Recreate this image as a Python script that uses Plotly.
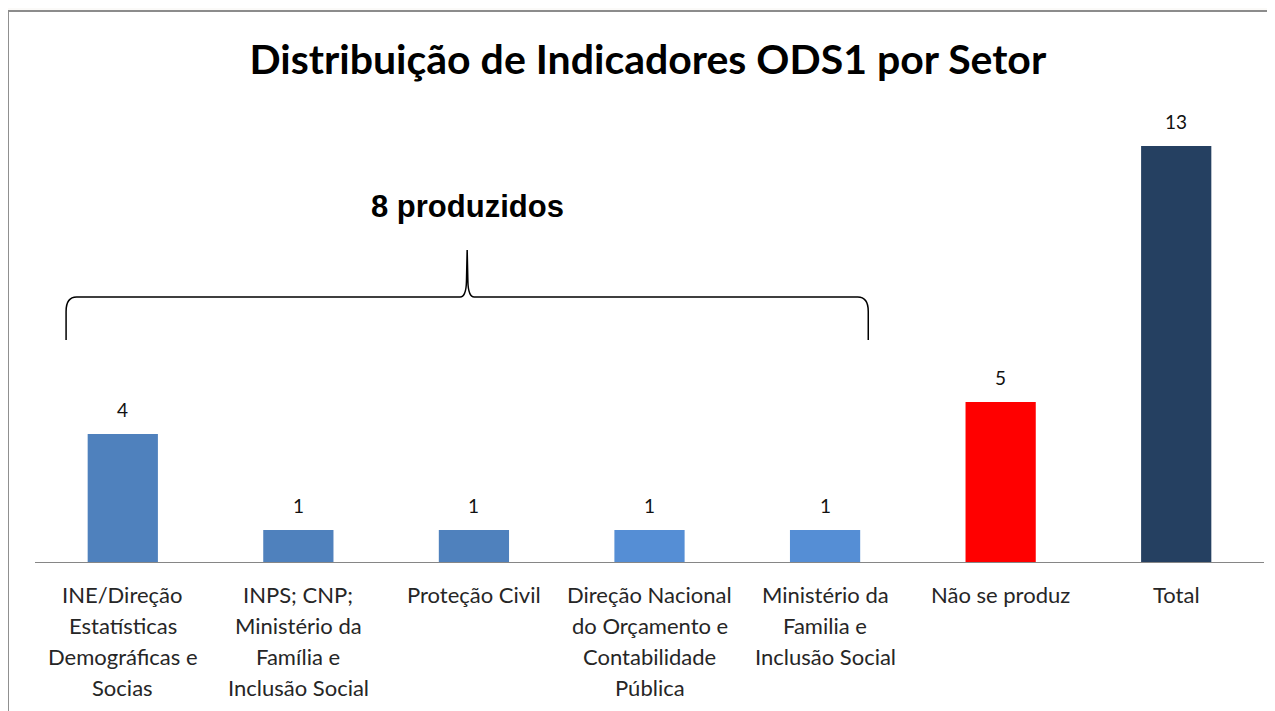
import plotly.graph_objects as go

# data
setores = [
    "INE/Direção<br>Estatísticas<br>Demográficas e<br>Socias",
    "INPS; CNP;<br>Ministério da<br>Família e<br>Inclusão Social",
    "Proteção Civil",
    "Direção Nacional<br>do Orçamento e<br>Contabilidade<br>Pública",
    "Ministério da<br>Familia e<br>Inclusão Social",
    "Não se produz",
    "Total",
]
indicadores = [4, 1, 1, 1, 1, 5, 13]
cores = ["#4F81BD", "#4F81BD", "#4F81BD", "#558ED5", "#558ED5", "#FF0000", "#254061"]

brace_text = "8 produzidos"
title_text = "Distribuição de Indicadores ODS1 por Setor"

FONT = "Lato, Calibri, 'Open Sans', sans-serif"

xs = list(range(len(setores)))

fig = go.Figure()
fig.add_trace(go.Bar(
    x=xs,
    y=indicadores,
    width=0.4,
    marker=dict(color=cores, line=dict(width=0)),
    hoverinfo="skip",
))

# value labels above each bar
for i, v in zip(xs, indicadores):
    fig.add_annotation(x=i, y=v, text=str(v), showarrow=False,
                       yanchor="bottom", yshift=11,
                       font=dict(family=FONT, size=19, color="#111111"))

# category labels, one annotation per line so spacing matches the original
for i, lab in zip(xs, setores):
    for k, line in enumerate(lab.split("<br>")):
        fig.add_annotation(x=i, y=0, text=line, showarrow=False,
                           yanchor="middle", yshift=-32 - 31 * k,
                           font=dict(family=FONT, size=22, color="#262626"))

# curly brace over the produced indicators
x0, x1 = -0.323, 4.246
xm = (x0 + x1) / 2
y_end, y_h, y_tip = 6.94, 8.28, 9.75
brace = (
    f"M {x0},{y_end} L {x0},{y_h - 0.45} Q {x0},{y_h} {x0 + 0.06},{y_h} "
    f"L {xm - 0.04},{y_h} Q {xm - 0.006},{y_h} {xm - 0.004},{y_h + 0.5} L {xm},{y_tip} "
    f"L {xm + 0.004},{y_h + 0.5} Q {xm + 0.006},{y_h} {xm + 0.04},{y_h} "
    f"L {x1 - 0.06},{y_h} Q {x1},{y_h} {x1},{y_h - 0.45} L {x1},{y_end}"
)
fig.add_shape(type="path", path=brace, xref="x", yref="y",
              line=dict(color="#000000", width=1.5))
fig.add_annotation(x=xm, y=11.1, text=f"<b>{brace_text}</b>", showarrow=False,
                   font=dict(family="Liberation Sans, Arial", size=31, color="#000000"))

# chart frame (only top and left edges visible in the crop)
fig.add_shape(type="rect", xref="paper", yref="paper",
              x0=-0.022, x1=1.2, y0=-0.5, y1=1.23,
              fillcolor="#FFFFFF", line=dict(color="#8C8C8C", width=2), layer="below")

# the page body adds an 8px offset, so the figure is 8px smaller
fig.update_layout(
    width=1267,
    height=703,
    margin=dict(l=27, r=11, t=106, b=149),
    paper_bgcolor="#FBFAF8",
    plot_bgcolor="rgba(0,0,0,0)",
    showlegend=False,
    title=dict(text=title_text, x=0.505, xanchor="center", y=0.926, yanchor="middle",
               font=dict(family=FONT, size=41, color="#000000", weight="bold")),
    xaxis=dict(range=[-0.5, 6.5], showticklabels=False, showgrid=False, zeroline=False,
               showline=True, linecolor="#868686", linewidth=1, ticks=""),
    yaxis=dict(range=[0, 14], visible=False, showgrid=False, zeroline=False),
)

fig.write_html("out.html")
